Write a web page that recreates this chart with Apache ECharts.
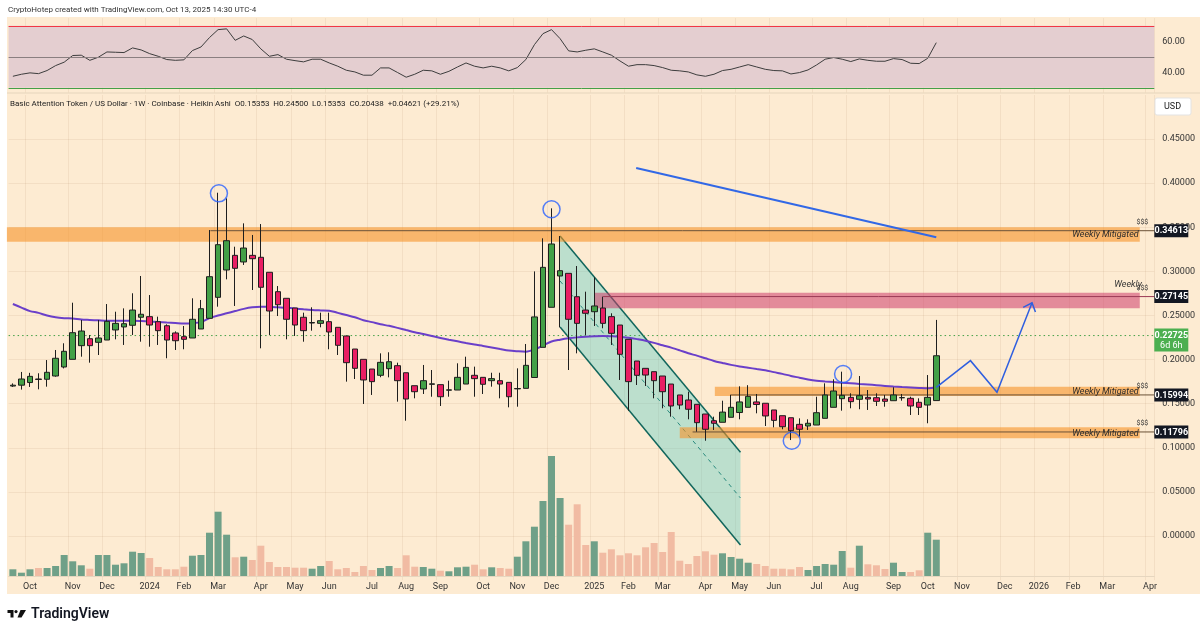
<!DOCTYPE html>
<html>
<head>
<meta charset="utf-8">
<title>BAT / USD 1W</title>
<script src="https://cdn.jsdelivr.net/npm/echarts@6/dist/echarts.min.js"></script>
<style>
  html, body { margin: 0; padding: 0; background: #fff; }
  #main { width: 1200px; height: 634px; }
</style>
</head>
<body>
<div id="main"></div>
<script>
// weekly Heikin Ashi bars, first bar = week of 2023-09-11
const firstWeek = '2023-09-11';
const weekCount = 134; // data weeks + empty space to the right

const haOpen = [
  0.1700, 0.1710, 0.1740, 0.1780, 0.1777, 0.1814, 0.1916, 0.2003, 0.2158, 0.2237,
  0.2196, 0.2222, 0.2336, 0.2370, 0.2389, 0.2480, 0.2487, 0.2430, 0.2384, 0.2302,
  0.2260, 0.2245, 0.2347, 0.2468, 0.2706, 0.3016, 0.3182, 0.3107, 0.3182, 0.3160,
  0.2990, 0.2770, 0.2695, 0.2585, 0.2480, 0.2415, 0.2411, 0.2430, 0.2366, 0.2268,
  0.2120, 0.2003, 0.1893, 0.1822, 0.1897, 0.1931, 0.1851, 0.1704, 0.1667, 0.1720,
  0.1716, 0.1653, 0.1655, 0.1723, 0.1822, 0.1799, 0.1761, 0.1761, 0.1742, 0.1668,
  0.1674, 0.1797, 0.2139, 0.2593, 0.2948, 0.2978, 0.2713, 0.2562, 0.2543, 0.2585,
  0.2487, 0.2392, 0.2230, 0.1984, 0.1901, 0.1863, 0.1814, 0.1723, 0.1599, 0.1542,
  0.1493, 0.1383, 0.1307, 0.1289, 0.1346, 0.1400, 0.1459, 0.1520, 0.1505, 0.1429,
  0.1364, 0.1341, 0.1266, 0.1247, 0.1258, 0.1334, 0.1459, 0.1557, 0.1572, 0.1550,
  0.1572, 0.1568, 0.1553, 0.1534, 0.1567, 0.1561, 0.1516, 0.1485, 0.15353
];
const haHigh = [
  0.1730, 0.1860, 0.1850, 0.1845, 0.1995, 0.2109, 0.2185, 0.2645, 0.2449, 0.2279,
  0.2449, 0.2630, 0.2543, 0.2581, 0.2752, 0.2948, 0.2732, 0.2487, 0.2400, 0.2320,
  0.2381, 0.2695, 0.2676, 0.3469, 0.3892, 0.3829, 0.3280, 0.3545, 0.3413, 0.3537,
  0.2990, 0.2834, 0.2695, 0.2585, 0.2532, 0.2593, 0.2532, 0.2532, 0.2366, 0.2268,
  0.2120, 0.2003, 0.1893, 0.2071, 0.2083, 0.1965, 0.1851, 0.1704, 0.1939, 0.1882,
  0.1716, 0.1761, 0.1958, 0.2033, 0.1920, 0.1799, 0.1851, 0.1851, 0.1742, 0.1901,
  0.2177, 0.3000, 0.3375, 0.3715, 0.3401, 0.2978, 0.3061, 0.2770, 0.2933, 0.2713,
  0.2525, 0.2392, 0.2230, 0.1984, 0.1901, 0.1863, 0.1814, 0.1723, 0.1599, 0.1636,
  0.1493, 0.1383, 0.1353, 0.1534, 0.1599, 0.1697, 0.1710, 0.1610, 0.1505, 0.1429,
  0.1364, 0.1341, 0.1334, 0.1323, 0.1579, 0.1731, 0.1777, 0.1863, 0.1618, 0.1814,
  0.1655, 0.1618, 0.1599, 0.1686, 0.1610, 0.1579, 0.1561, 0.1825, 0.24500
];
const haLow = [
  0.1690, 0.1660, 0.1690, 0.1663, 0.1693, 0.1806, 0.1900, 0.2003, 0.2033, 0.1965,
  0.2052, 0.2222, 0.2230, 0.2166, 0.2279, 0.2203, 0.2146, 0.2166, 0.2015, 0.2109,
  0.2117, 0.2245, 0.2347, 0.2468, 0.2600, 0.2910, 0.2608, 0.3073, 0.2789, 0.2128,
  0.2279, 0.2494, 0.2230, 0.2268, 0.2203, 0.2328, 0.2366, 0.2117, 0.2052, 0.1750,
  0.1780, 0.1497, 0.1599, 0.1800, 0.1799, 0.1523, 0.1307, 0.1561, 0.1610, 0.1579,
  0.1474, 0.1579, 0.1655, 0.1723, 0.1579, 0.1610, 0.1693, 0.1561, 0.1459, 0.1466,
  0.1674, 0.1797, 0.2139, 0.2593, 0.2366, 0.1882, 0.2071, 0.2279, 0.2381, 0.2355,
  0.2166, 0.1769, 0.1421, 0.1712, 0.1701, 0.1561, 0.1448, 0.1353, 0.1437, 0.1323,
  0.1183, 0.1080, 0.1202, 0.1289, 0.1346, 0.1323, 0.1459, 0.1391, 0.1247, 0.1232,
  0.1210, 0.1088, 0.1126, 0.1202, 0.1258, 0.1334, 0.1459, 0.1421, 0.1448, 0.1437,
  0.1429, 0.1474, 0.1466, 0.1534, 0.1534, 0.1372, 0.1372, 0.1278, 0.15353
];
const haClose = [
  0.1710, 0.1780, 0.1810, 0.1775, 0.1856, 0.2015, 0.2094, 0.2305, 0.2324, 0.2158,
  0.2245, 0.2434, 0.2411, 0.2407, 0.2562, 0.2514, 0.2392, 0.2328, 0.2222, 0.2214,
  0.2230, 0.2457, 0.2577, 0.2940, 0.3303, 0.3348, 0.3035, 0.3265, 0.3144, 0.2820,
  0.2551, 0.2622, 0.2457, 0.2392, 0.2328, 0.2420, 0.2441, 0.2313, 0.2162, 0.1965,
  0.1901, 0.1769, 0.1750, 0.1969, 0.1976, 0.1761, 0.1553, 0.1636, 0.1761, 0.1725,
  0.1579, 0.1657, 0.1799, 0.1912, 0.1784, 0.1720, 0.1784, 0.1723, 0.1579, 0.1672,
  0.1935, 0.2484, 0.3046, 0.3311, 0.3008, 0.2457, 0.2411, 0.2525, 0.2608, 0.2411,
  0.2298, 0.2060, 0.1750, 0.1822, 0.1825, 0.1761, 0.1636, 0.1474, 0.1485, 0.1437,
  0.1285, 0.1210, 0.1278, 0.1405, 0.1459, 0.1520, 0.1583, 0.1491, 0.1361, 0.1311,
  0.1239, 0.1194, 0.1210, 0.1278, 0.1398, 0.1599, 0.1644, 0.1595, 0.1523, 0.1591,
  0.1553, 0.1527, 0.1527, 0.1599, 0.1569, 0.1474, 0.1459, 0.1572, 0.20438
];
// volume, relative units
const volume = [
  6.7, 3.3, 6.7, 8, 8, 10, 21, 14.7, 10.7, 7.3,
  21, 21, 11.3, 12.7, 24.3, 23, 18, 9, 6.7, 6.7,
  9.3, 20.3, 21, 43.3, 64.3, 41.3, 18.7, 19.3, 16, 30.3,
  14, 9, 9, 8.3, 8.3, 7.3, 10, 15, 6.7, 8,
  4, 10, 6, 8, 10, 8, 20.7, 9.3, 9, 7.3,
  5.3, 4.7, 8.7, 9.3, 11.3, 6.7, 8.7, 8, 7.3, 19.3,
  34.7, 49.3, 75, 120, 78, 51.3, 71.7, 31, 34.7, 23.3,
  26.7, 20.7, 22.7, 20.7, 28.7, 33, 24, 44, 15.3, 12,
  20, 24.7, 21.3, 22.7, 19, 17.3, 13.3, 12, 10, 7.3,
  7.3, 6.7, 9, 6, 10, 12, 11.3, 25, 8.3, 30.3,
  11.7, 10.7, 7, 13.3, 4, 4, 5.7, 43.3, 36.3
];
const rsi = [
  37.4, 38.7, 39.6, 39.1, 41.1, 44.3, 46.5, 50.8, 51.0, 47.7,
  49.7, 53.1, 52.9, 52.7, 55.7, 54.4, 52.0, 50.3, 48.2, 47.7,
  48.0, 54.0, 56.3, 62.4, 67.5, 68.0, 60.6, 63.4, 61.1, 55.1,
  50.3, 51.4, 48.4, 47.5, 46.7, 48.4, 48.4, 46.0, 43.9, 41.3,
  40.2, 38.1, 38.1, 42.8, 42.8, 39.8, 36.8, 38.7, 41.3, 40.9,
  38.7, 40.6, 43.4, 46.0, 43.9, 42.8, 43.9, 42.8, 40.9, 43.0,
  48.2, 57.8, 64.9, 67.5, 61.7, 53.8, 53.1, 54.2, 55.1, 53.1,
  51.0, 47.3, 43.9, 44.9, 44.9, 44.3, 43.0, 41.3, 40.9, 40.2,
  38.3, 37.4, 38.7, 41.1, 41.9, 43.4, 44.9, 43.4, 41.9, 41.1,
  40.9, 38.9, 39.8, 41.5, 44.7, 48.4, 49.5, 48.4, 46.9, 48.6,
  47.7, 47.1, 47.1, 48.8, 48.2, 45.8, 45.6, 49.0, 59.1
];
// purple moving average
const maLine = [
  0.2630, 0.2590, 0.2550, 0.2530, 0.2500, 0.2480, 0.2470, 0.2465, 0.2455, 0.2450,
  0.2445, 0.2440, 0.2440, 0.2440, 0.2440, 0.2437, 0.2432, 0.2427, 0.2420, 0.2415,
  0.2410, 0.2413, 0.2425, 0.2470, 0.2500, 0.2525, 0.2550, 0.2575, 0.2593, 0.2600,
  0.2598, 0.2593, 0.2588, 0.2580, 0.2570, 0.2562, 0.2558, 0.2555, 0.2530, 0.2505,
  0.2480, 0.2447, 0.2425, 0.2400, 0.2383, 0.2360, 0.2335, 0.2310, 0.2290, 0.2268,
  0.2245, 0.2225, 0.2207, 0.2188, 0.2170, 0.2155, 0.2138, 0.2120, 0.2103, 0.2095,
  0.2090, 0.2115, 0.2160, 0.2205, 0.2225, 0.2241, 0.2252, 0.2260, 0.2265, 0.2268,
  0.2265, 0.2260, 0.2248, 0.2232, 0.2214, 0.2190, 0.2162, 0.2136, 0.2105, 0.2072,
  0.2045, 0.2015, 0.1985, 0.1962, 0.1940, 0.1922, 0.1908, 0.1893, 0.1880, 0.1858,
  0.1838, 0.1815, 0.1795, 0.1775, 0.1760, 0.1752, 0.1745, 0.1738, 0.1732, 0.1724,
  0.1717, 0.1710, 0.1702, 0.1694, 0.1688, 0.1683, 0.1678, 0.1674, 0.1686
];

// drawings (x = bar index, y = price)
const zoneFrom = [-0.7, 68.0, 82.1, 78.0];
const zoneTo = [131.8, 131.8, 131.8, 131.8];
const zoneLow = [0.3337, 0.2581, 0.1587, 0.1108];
const zoneHigh = [0.3500, 0.2759, 0.1693, 0.1233];
const levelPrice = [0.34613, 0.27145, 0.15994, 0.11796];
const levelFrom = [23.1, 69.0, 83.9, 79.5];
const zoneNote = ['Weekly Mitigated', 'Weekly', 'Weekly Mitigated', 'Weekly Mitigated'];
const levelTag = '$$$';
const lastPrice = 0.22725;
const barCountdown = '6d 6h';

const channelUpper = [[64.0, 0.3401], [85.1, 0.0949]];
const channelLower = [[64.0, 0.2370], [85.1, -0.0102]];
const channelMid = [[64.0, 0.2891], [85.1, 0.0431]];
const trendX = [72.9, 108.0];
const trendY = [0.4172, 0.3387];
const pathX = [108.0, 112.0, 115.1, 119.2];
const pathY = [0.1686, 0.1988, 0.1629, 0.2645];
const circleX = [24.1, 63.0, 97.1, 91.1];
const circleY = [0.3885, 0.3704, 0.1837, 0.1080];

const headerText = 'CryptoHotep created with TradingView.com, Oct 13, 2025 14:30 UTC-4';
const legendText = 'Basic Attention Token / US Dollar \u00b7 1W \u00b7 Coinbase \u00b7 Heikin Ashi  O0.15353  H0.24500  L0.15353  C0.20438  +0.04621 (+29.21%)';

// week categories
const weeks = [];
for (let i = 0; i < weekCount; i++) {
  const d = new Date(Date.parse(firstWeek + 'T00:00:00Z') + i * 7 * 86400000);
  weeks.push(d.toISOString().slice(0, 10));
}
const MONTHS = ['Jan', 'Feb', 'Mar', 'Apr', 'May', 'Jun', 'Jul', 'Aug', 'Sep', 'Oct', 'Nov', 'Dec'];
function weekLabel(value) {
  const t0 = Date.parse(value + 'T00:00:00Z');
  for (let k = 0; k < 7; k++) {
    const t = new Date(t0 + k * 86400000);
    if (t.getUTCDate() === 1) {
      return t.getUTCMonth() === 0 ? String(t.getUTCFullYear()) : MONTHS[t.getUTCMonth()];
    }
  }
  return '';
}
function hasLabel(index, value) { return weekLabel(value) !== ''; }

const FONT = 'Roboto, "Noto Sans", sans-serif';
const GRIDLINE = 'rgba(140,100,50,0.09)';
const UP = '#43a047', DOWN = '#e91e63';

const candles = haOpen.map((o, i) => [o, haClose[i], haLow[i], haHigh[i]]);
const volBars = volume.map((v, i) => ({
  value: v,
  itemStyle: { color: haClose[i] >= haOpen[i] ? '#6fa088' : '#f1bba3' }
}));

function txt(text, x, y, font, fill, align, valign) {
  return {
    type: 'text',
    style: { text: text, x: x, y: y, font: font, fill: fill,
      align: align, textAlign: align, verticalAlign: valign, textVerticalAlign: valign }
  };
}

function renderZone(params, api) {
  const cs = params.coordSys;
  const right = cs.x + cs.width;
  const k = params.dataIndex;
  const pink = k === 1;
  const x0 = Math.max(cs.x - 2, api.coord([api.value(0), 0])[0]);
  const x1 = api.coord([api.value(1), 0])[0];
  const yLo = api.coord([0, api.value(2)])[1];
  const yHi = api.coord([0, api.value(3)])[1];
  const yL = api.coord([0, api.value(4)])[1];
  const xl = api.coord([api.value(5), 0])[0];
  const kids = [
    { type: 'rect', shape: { x: x0, y: yHi, width: x1 - x0, height: yLo - yHi },
      style: { fill: pink ? 'rgba(206,60,108,0.55)' : 'rgba(246,146,40,0.6)' } },
    { type: 'line', shape: { x1: xl, y1: yL, x2: right, y2: yL },
      style: { stroke: pink ? '#9b3a55' : '#6b5238', lineWidth: 1 } },
    txt(levelTag, right - 6, yL - 5, '7px ' + FONT, '#333', 'right', 'bottom'),
    { type: 'rect', shape: { x: right, y: yL - 6.5, width: 34, height: 13 },
      style: { fill: '#131722' } },
    txt(api.value(4).toFixed(5), right + 17, yL + 0.5, 'bold 9px ' + FONT, '#ffffff', 'center', 'middle')
  ];
  if (pink) {
    kids.push(txt(zoneNote[k], x1 + 2, yHi - 3, 'italic 9px ' + FONT, '#333', 'right', 'bottom'));
  } else {
    kids.push(txt(zoneNote[k], x1 - 1, (yHi + yLo) / 2 + 0.5, 'italic 9px ' + FONT, '#2a2a2a', 'right', 'middle'));
  }
  return { type: 'group', children: kids };
}

function renderChannel(params, api) {
  const a = api.coord(channelUpper[0]), b = api.coord(channelUpper[1]);
  const c = api.coord(channelLower[1]), d = api.coord(channelLower[0]);
  const m0 = api.coord(channelMid[0]), m1 = api.coord(channelMid[1]);
  return { type: 'group', children: [
    { type: 'polygon', shape: { points: [a, b, c, d] }, style: { fill: 'rgba(40,196,196,0.3)' } },
    { type: 'line', shape: { x1: a[0], y1: a[1], x2: b[0], y2: b[1] }, style: { stroke: '#11665c', lineWidth: 1.5 } },
    { type: 'line', shape: { x1: d[0], y1: d[1], x2: c[0], y2: c[1] }, style: { stroke: '#11665c', lineWidth: 1.5 } },
    { type: 'line', shape: { x1: m0[0], y1: m0[1], x2: m1[0], y2: m1[1] }, style: { stroke: '#2a8a7e', lineWidth: 1, lineDash: [4, 4] } }
  ] };
}

function renderPath(params, api) {
  const pts = pathX.map((x, k) => api.coord([x, pathY[k]]));
  const tip = pts[pts.length - 1], prev = pts[pts.length - 2];
  const ang = Math.atan2(tip[1] - prev[1], tip[0] - prev[0]);
  const L = 10, s = 0.72;
  const w1 = [tip[0] - L * Math.cos(ang - s), tip[1] - L * Math.sin(ang - s)];
  const w2 = [tip[0] - L * Math.cos(ang + s), tip[1] - L * Math.sin(ang + s)];
  return { type: 'group', children: [
    { type: 'polyline', shape: { points: pts }, style: { stroke: '#2f5fe0', lineWidth: 1.5, fill: null } },
    { type: 'polyline', shape: { points: [w1, tip, w2] }, style: { stroke: '#2f5fe0', lineWidth: 1.5, fill: null } }
  ] };
}

function renderLast(params, api) {
  const cs = params.coordSys;
  const right = cs.x + cs.width;
  const y = api.coord([0, api.value(1)])[1];
  return { type: 'group', children: [
    { type: 'line', shape: { x1: cs.x, y1: y, x2: right, y2: y },
      style: { stroke: '#43a047', lineWidth: 1, lineDash: [1.5, 3] } },
    { type: 'rect', shape: { x: right, y: y - 7, width: 34, height: 23 }, style: { fill: '#4caf50' } },
    txt(api.value(1).toFixed(5), right + 17, y + 0.5, 'bold 9px ' + FONT, '#ffffff', 'center', 'middle'),
    txt(barCountdown, right + 17, y + 10.5, '9px ' + FONT, '#ffffff', 'center', 'middle')
  ] };
}

const GL = 8.6, GR = 45.7;
const catAxis = (grid) => ({
  type: 'category', gridIndex: grid, data: weeks, boundaryGap: true,
  axisLine: { show: false }, axisTick: { show: false }, axisLabel: { show: false },
  splitLine: { show: true, interval: hasLabel, lineStyle: { color: GRIDLINE, width: 1 } }
});

const option = {
  animation: false,
  backgroundColor: '#ffffff',
  textStyle: { fontFamily: FONT },
  grid: [
    { left: GL, right: GR, top: 18, height: 74.4, outerBoundsMode: 'none' },
    { left: GL, right: GR, top: 95, height: 485.1, outerBoundsMode: 'none' },
    { left: GL, right: GR, top: 456, height: 120, outerBoundsMode: 'none' }
  ],
  xAxis: [
    catAxis(0),
    catAxis(1),
    { type: 'value', gridIndex: 1, min: -0.5, max: weekCount - 0.5, show: false },
    {
      type: 'category', gridIndex: 2, data: weeks, boundaryGap: true,
      axisLine: { show: true, lineStyle: { color: '#e6d6bf' } }, axisTick: { show: false },
      axisLabel: { interval: 0, formatter: weekLabel, color: '#333', fontSize: 9, margin: 6 },
      splitLine: { show: false }
    }
  ],
  yAxis: [
    {
      type: 'value', gridIndex: 0, min: 27, max: 75, position: 'right',
      axisLine: { show: false }, axisTick: { show: false }, splitLine: { show: false },
      axisLabel: { customValues: [40, 60], formatter: (v) => v.toFixed(2), color: '#333', fontSize: 9, margin: 8 }
    },
    {
      type: 'value', gridIndex: 1, min: -0.05, max: 0.5, interval: 0.05, position: 'right',
      axisLine: { show: false }, axisTick: { show: false },
      splitLine: { show: true, showMinLine: false, showMaxLine: false, lineStyle: { color: GRIDLINE } },
      axisLabel: {
        formatter: (v) => (v < -0.001 || v > 0.47) ? '' : v.toFixed(5),
        color: '#333', fontSize: 9, margin: 8
      }
    },
    { type: 'value', gridIndex: 2, min: 0, max: 120, show: false }
  ],
  graphic: [
    { type: 'rect', z: -10, shape: { x: 7, y: 17, width: 1193, height: 577 }, style: { fill: '#fdebd2' } },
    { type: 'line', z: -5, shape: { x1: 7, y1: 93, x2: 1200, y2: 93 }, style: { stroke: '#eddcc3', lineWidth: 1.5 } },
    { type: 'text', z: 50, style: { text: headerText, x: 8, y: 10, font: '8px ' + FONT, fill: '#333', textVerticalAlign: 'middle', verticalAlign: 'middle' } },
    { type: 'text', z: 50, style: { text: legendText, x: 10, y: 104, font: '8px ' + FONT, fill: '#222', textVerticalAlign: 'middle', verticalAlign: 'middle' } },
    { type: 'rect', z: 50, shape: { x: 1155, y: 98, width: 36, height: 17, r: 2 }, style: { fill: '#ffffff', stroke: '#e3e3e3' } },
    { type: 'text', z: 51, style: { text: 'USD', x: 1164, y: 106.5, font: '9px ' + FONT, fill: '#222', textVerticalAlign: 'middle', verticalAlign: 'middle' } },
    // TradingView logo
    { type: 'polygon', z: 50, shape: { points: [[7.5, 610], [13.5, 610], [13.5, 617.5], [10.5, 617.5], [10.5, 613], [7.5, 613]] }, style: { fill: '#111' } },
    { type: 'circle', z: 50, shape: { cx: 16, cy: 611.6, r: 1.6 }, style: { fill: '#111' } },
    { type: 'polygon', z: 50, shape: { points: [[20.5, 610], [26, 610], [21.5, 617.5], [17.5, 617.5]] }, style: { fill: '#111' } },
    { type: 'text', z: 50, style: { text: 'TradingView', x: 31, y: 614, font: '600 14px ' + FONT, fill: '#131722', textVerticalAlign: 'middle', verticalAlign: 'middle' } }
  ],
  series: [
    {
      name: 'RSI', type: 'line', xAxisIndex: 0, yAxisIndex: 0, data: rsi, symbol: 'none', z: 3,
      lineStyle: { color: '#3d3d3d', width: 1 },
      markArea: { silent: true, itemStyle: { color: '#e4ced0' }, data: [[{ yAxis: 30 }, { yAxis: 70 }]] },
      markLine: {
        silent: true, symbol: 'none', label: { show: false },
        data: [
          { yAxis: 70, lineStyle: { color: '#f23645', width: 1, type: 'solid' } },
          { yAxis: 50, lineStyle: { color: '#8a7f80', width: 1, type: 'solid' } },
          { yAxis: 30, lineStyle: { color: '#43a047', width: 1, type: 'solid' } }
        ]
      }
    },
    {
      name: 'Volume', type: 'bar', xAxisIndex: 3, yAxisIndex: 2, data: volBars, barWidth: 7, z: 1
    },
    {
      name: 'Channel', type: 'custom', xAxisIndex: 2, yAxisIndex: 1, z: 2,
      renderItem: renderChannel, data: [[channelUpper[0][0], channelUpper[0][1]]]
    },
    {
      name: 'Zones', type: 'custom', xAxisIndex: 2, yAxisIndex: 1, z: 3,
      renderItem: renderZone,
      dimensions: ['from', 'to', 'low', 'high', 'level', 'lineFrom'],
      encode: { x: 0, y: 2 },
      data: zoneFrom.map((f, k) => [f, zoneTo[k], zoneLow[k], zoneHigh[k], levelPrice[k], levelFrom[k]])
    },
    {
      name: 'Last', type: 'custom', xAxisIndex: 2, yAxisIndex: 1, z: 4,
      renderItem: renderLast, encode: { x: 0, y: 1 }, data: [[107, lastPrice]]
    },
    {
      name: 'MA', type: 'line', xAxisIndex: 1, yAxisIndex: 1, data: maLine, symbol: 'none', smooth: 0.3, z: 5,
      lineStyle: { color: '#6a3fc9', width: 2 }
    },
    {
      name: 'BAT/USD', type: 'candlestick', xAxisIndex: 1, yAxisIndex: 1, data: candles, barWidth: 6, z: 6,
      itemStyle: { color: UP, color0: DOWN, borderColor: '#1e1e1e', borderColor0: '#1e1e1e', borderWidth: 1 }
    },
    {
      name: 'Trend', type: 'line', xAxisIndex: 2, yAxisIndex: 1, symbol: 'none', z: 7,
      data: trendX.map((x, k) => [x, trendY[k]]),
      lineStyle: { color: '#3268e6', width: 2 }
    },
    {
      name: 'Path', type: 'custom', xAxisIndex: 2, yAxisIndex: 1, z: 7,
      renderItem: renderPath, data: [[pathX[0], pathY[0]]]
    },
    {
      name: 'Marks', type: 'scatter', xAxisIndex: 2, yAxisIndex: 1, z: 8,
      data: circleX.map((x, k) => [x, circleY[k]]), symbol: 'circle', symbolSize: 17,
      itemStyle: { color: 'rgba(0,0,0,0)', borderColor: '#2962ff', borderWidth: 1.5 }
    }
  ]
};

const chart = echarts.init(document.getElementById('main'));
chart.setOption(option);
</script>
</body>
</html>
